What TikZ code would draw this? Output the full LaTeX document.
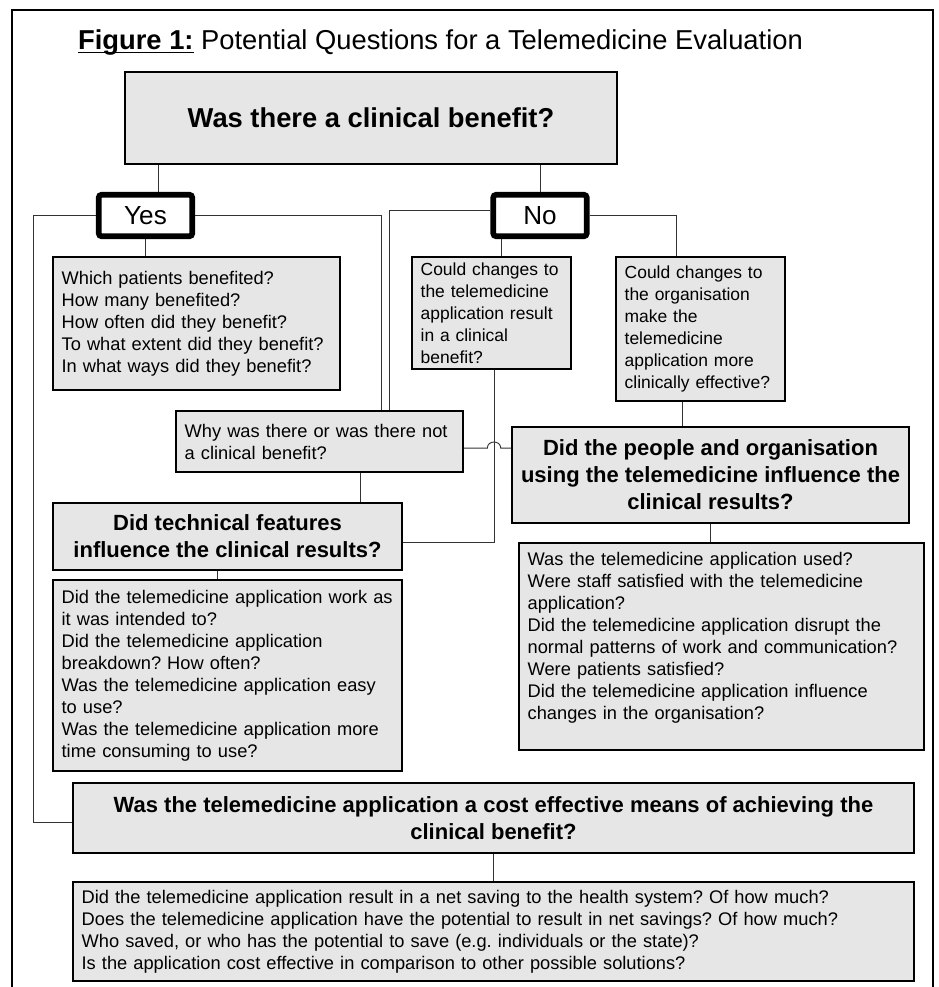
\documentclass[tikz,border=0pt]{standalone}
\usepackage{fontspec}
\setmainfont{Liberation Sans}
\usetikzlibrary{positioning,calc}
\definecolor{boxgray}{HTML}{E6E6E6}
\newcommand{\bodyfont}{\fontsize{13.7}{16.5}\selectfont\frenchspacing\hyphenpenalty=10000}
\newcommand{\smallbodyfont}{\fontsize{13.1}{16.5}\selectfont\frenchspacing\hyphenpenalty=10000}
\newcommand{\headfont}{\fontsize{16.5}{20.25}\selectfont\bfseries}

\begin{document}
\begin{tikzpicture}[x=0.75pt,y=-0.75pt,
  qbox/.style={draw,fill=boxgray,line width=0.9pt,inner xsep=6.5pt,inner ysep=0pt,align=left,font=\bodyfont},
  headbox/.style={qbox,align=center,font=\headfont},
  answer/.style={draw,fill=white,line width=4.3pt,rounded corners=2pt,minimum width=70pt,minimum height=31pt,inner sep=0pt,font=\fontsize{19.6}{23}\selectfont},
  link/.style={draw=black!80,line width=0.7pt}]
  \useasboundingbox (0,0) rectangle (938,987);
  \draw[line width=1.5pt] (12,995) -- (12,10) -- (933,10) -- (933,995);
  \node[anchor=base,font=\fontsize{20.5}{24}\selectfont] (title) at (440.5,50) {\underline{\smash{\textbf{Figure 1:}}} Potential Questions for a Telemedicine Evaluation};

  \node[headbox,font=\fontsize{20.5}{24}\selectfont\bfseries,minimum width=369pt,minimum height=69pt] (benefit) at (371,118) {Was there a clinical benefit?};
  \node[answer] (yes) at (145.5,215.5) {Yes};
  \node[answer] (no) at (540,215.5) {No};

  \node[qbox,text width=202.25pt,minimum height=99.75pt] (which) at (196.5,323.5) {Which patients benefited?\\How many benefited?\\How often did they benefit?\\To what extent did they benefit?\\In what ways did they benefit?};
  \node[qbox,font=\smallbodyfont,text width=106.25pt,minimum height=84pt] (couldtech) at (491.5,313) {Could changes to\\the telemedicine\\application result\\in a clinical\\benefit?};
  \node[qbox,font=\smallbodyfont,text width=113.75pt,minimum height=108pt] (couldorg) at (700.5,329) {Could changes to\\the organisation\\make the\\telemedicine\\application more\\clinically effective?};
  \node[qbox,text width=202.25pt,minimum height=45.75pt] (why) at (319.5,441.5) {Why was there or was there not\\a clinical benefit?};
  \node[headbox,minimum width=297.75pt,minimum height=72pt] (people) at (710.5,475) {Did the people and organisation\\using the telemedicine influence the\\clinical results?};
  \node[headbox,minimum width=261.75pt,minimum height=50.25pt] (tech) at (227.5,536.5) {Did technical features\\influence the clinical results?};
  \node[qbox,text width=248.75pt,minimum height=143.25pt] (techq) at (227.5,675.5) {Did the telemedicine application work as\\it was intended to?\\Did the telemedicine application\\breakdown? How often?\\Was the telemedicine application easy\\to use?\\Was the telemedicine application more\\time consuming to use?};
  \node[qbox,text width=290.75pt,minimum height=155.25pt] (peopleq) at (721.5,646.5) {Was the telemedicine application used?\\Were staff satisfied with the telemedicine\\application?\\Did the telemedicine application disrupt the\\normal patterns of work and communication?\\Were patients satisfied?\\Did the telemedicine application influence\\changes in the organisation?\\\mbox{}};
  \node[headbox,minimum width=630.75pt,minimum height=52.5pt] (cost) at (493.5,818) {Was the telemedicine application a cost effective means of achieving the\\clinical benefit?};
  \node[qbox,text width=617.75pt,minimum height=74.25pt] (costq) at (493.5,931.5) {Did the telemedicine application result in a net saving to the health system? Of how much?\\Does the telemedicine application have the potential to result in net savings? Of how much?\\Who saved, or who has the potential to save (e.g. individuals or the state)?\\Is the application cost effective in comparison to other possible solutions?};

  \coordinate (b2y) at ([xshift=9.4pt]yes.north);
  \draw[link] (benefit.south -| b2y) -- (b2y);
  \draw[link] (benefit.south -| no.north) -- (no.north);
  \coordinate (leftrail) at (33,0);
  \draw[link] (yes.west) -- (yes.west -| leftrail) |- ([yshift=-3pt]cost.west);
  \coordinate (yesrail) at ([xshift=46.1pt]why.north);
  \draw[link] (yes.east) -| (yesrail);
  \coordinate (norail) at ([xshift=52.1pt]why.north);
  \coordinate (noleft) at ([yshift=3.75pt]no.west);
  \draw[link] (noleft) -| (norail);
  \draw[link] (yes.south) -- (yes.south |- which.north);
  \coordinate (n2c) at ([xshift=7.1pt]couldtech.north);
  \draw[link] (no.south -| n2c) -- (n2c);
  \coordinate (n2o) at ([xshift=-18.4pt]couldorg.north);
  \draw[link] (no.east) -| (n2o);
  \coordinate (cross) at ([xshift=1.9pt]couldtech.south);
  \draw[link] (cross) |- ([yshift=-4.5pt]tech.east);
  \coordinate (whyout) at ([yshift=-4.9pt]why.east);
  \coordinate (hop) at (cross |- whyout);
  \draw[link] (whyout) -- ([xshift=-5pt]hop) .. controls +(0,6pt) and +(0,6pt) .. ([xshift=5pt]hop) -- (people.west |- whyout);
  \coordinate (o2p) at ([xshift=-13.9pt]couldorg.south);
  \draw[link] (o2p) -- (o2p |- people.north);
  \coordinate (w2t) at ([xshift=30.75pt]why.south);
  \draw[link] (w2t) -- (w2t |- tech.north);
  \coordinate (t2q) at ([xshift=-7.9pt]tech.south);
  \draw[link] (t2q) -- (t2q |- techq.north);
  \draw[link] (people.south) -- (people.south |- peopleq.north);
  \draw[link] (cost.south) -- (costq.north);
\end{tikzpicture}
\end{document}
